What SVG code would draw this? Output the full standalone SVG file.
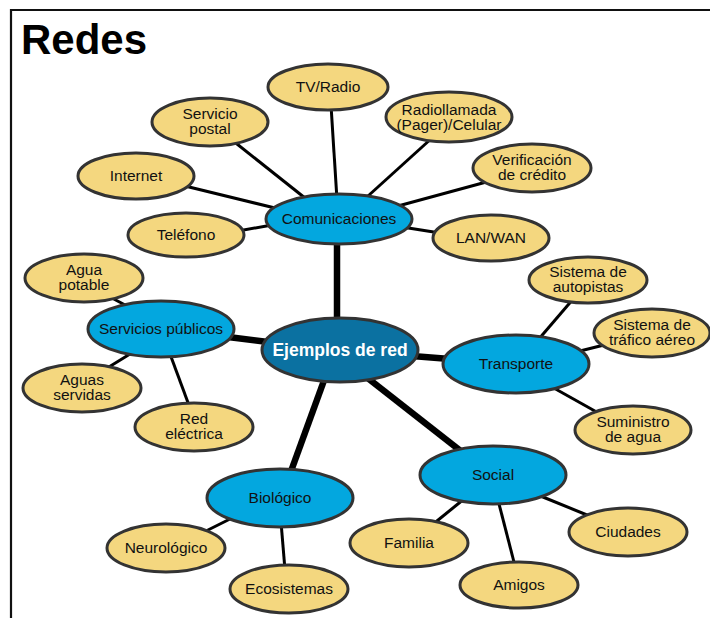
<svg xmlns="http://www.w3.org/2000/svg" width="710" height="618" viewBox="0 0 710 618">
  <style>
    text { font-family: "Liberation Sans", Arial, sans-serif; font-size: 15.5px; fill: #111; text-anchor: middle; }
    .leaf ellipse { fill: #f4d77f; stroke: #333; stroke-width: 3; }
    .cat ellipse { fill: #03a7df; stroke: #333; stroke-width: 3; }
    .hub ellipse { fill: #0b71a1; stroke: #333; stroke-width: 3; }
    .hub text { fill: #fff; font-weight: bold; font-size: 17.5px; }
    .title { font-weight: bold; font-size: 42px; text-anchor: start; fill: #000; }
    .thin { stroke: #000; stroke-width: 3; }
    .thick { stroke: #000; stroke-width: 6.5; }
  </style>

  <!-- frame -->
  <path d="M11 618 V10 H710" fill="none" stroke="#111" stroke-width="2.2"/>
  <text class="title" x="21" y="54">Redes</text>

  <!-- connectors -->
  <g id="connectors" stroke-linecap="butt">
    <line class="thin" x1="331" y1="105" x2="337" y2="200"/>
    <line class="thin" x1="232" y1="140" x2="305" y2="198"/>
    <line class="thin" x1="185" y1="186" x2="275" y2="208"/>
    <line class="thin" x1="238" y1="231" x2="272" y2="225"/>
    <line class="thin" x1="432" y1="138" x2="368" y2="196"/>
    <line class="thin" x1="490" y1="181" x2="398" y2="206"/>
    <line class="thin" x1="402" y1="227" x2="440" y2="233"/>
    <line class="thin" x1="110" y1="297" x2="127" y2="306"/>
    <line class="thin" x1="104" y1="370" x2="130" y2="354"/>
    <line class="thin" x1="170" y1="354" x2="190" y2="408"/>
    <line class="thin" x1="574" y1="298" x2="538" y2="340"/>
    <line class="thin" x1="576" y1="352" x2="608" y2="344"/>
    <line class="thin" x1="552" y1="387" x2="602" y2="415"/>
    <line class="thin" x1="432" y1="525" x2="464" y2="499"/>
    <line class="thin" x1="498" y1="500" x2="515" y2="566"/>
    <line class="thin" x1="538" y1="495" x2="592" y2="517"/>
    <line class="thin" x1="202" y1="533" x2="234" y2="517"/>
    <line class="thin" x1="281" y1="522" x2="285" y2="570"/>
    <line class="thick" x1="337" y1="240" x2="337" y2="325"/>
    <line class="thick" x1="228" y1="337" x2="268" y2="342"/>
    <line class="thick" x1="412" y1="356" x2="450" y2="359"/>
    <line class="thick" x1="365" y1="376" x2="462" y2="452"/>
    <line class="thick" x1="326" y1="375" x2="290" y2="474"/>
  </g>

  <!-- hub -->
  <g id="ejemplos" class="hub">
    <ellipse cx="340" cy="350" rx="78" ry="32"/>
    <text x="340" y="356">Ejemplos de red</text>
  </g>

  <!-- categories -->
  <g id="comunicaciones" class="cat">
    <ellipse cx="339" cy="219" rx="73" ry="25"/>
    <text x="339" y="224">Comunicaciones</text>
  </g>
  <g id="servicios" class="cat">
    <ellipse cx="161" cy="329" rx="73" ry="28"/>
    <text x="161" y="334">Servicios públicos</text>
  </g>
  <g id="transporte" class="cat">
    <ellipse cx="516" cy="364" rx="73" ry="29"/>
    <text x="516" y="369">Transporte</text>
  </g>
  <g id="social" class="cat">
    <ellipse cx="493" cy="475" rx="73" ry="29"/>
    <text x="493" y="480">Social</text>
  </g>
  <g id="biologico" class="cat">
    <ellipse cx="280" cy="498" rx="73" ry="29"/>
    <text x="280" y="503">Biológico</text>
  </g>

  <!-- leaves: Comunicaciones -->
  <g id="tvradio" class="leaf">
    <ellipse cx="328" cy="87" rx="60" ry="23"/>
    <text x="328" y="92">TV/Radio</text>
  </g>
  <g id="postal" class="leaf">
    <ellipse cx="210" cy="122" rx="58" ry="24"/>
    <text x="210" y="119">Servicio</text>
    <text x="210" y="134">postal</text>
  </g>
  <g id="internet" class="leaf">
    <ellipse cx="136" cy="176" rx="58" ry="23"/>
    <text x="136" y="181">Internet</text>
  </g>
  <g id="telefono" class="leaf">
    <ellipse cx="186" cy="235" rx="58" ry="22"/>
    <text x="186" y="240">Teléfono</text>
  </g>
  <g id="radiollamada" class="leaf">
    <ellipse cx="449" cy="117" rx="63" ry="25"/>
    <text x="449" y="115">Radiollamada</text>
    <text x="449" y="130">(Pager)/Celular</text>
  </g>
  <g id="verificacion" class="leaf">
    <ellipse cx="532" cy="168" rx="59" ry="24"/>
    <text x="532" y="165">Verificación</text>
    <text x="532" y="180">de crédito</text>
  </g>
  <g id="lanwan" class="leaf">
    <ellipse cx="491" cy="238" rx="58" ry="23"/>
    <text x="491" y="243">LAN/WAN</text>
  </g>

  <!-- leaves: Servicios públicos -->
  <g id="aguapotable" class="leaf">
    <ellipse cx="84" cy="278" rx="59" ry="24"/>
    <text x="84" y="275">Agua</text>
    <text x="84" y="290">potable</text>
  </g>
  <g id="aguasservidas" class="leaf">
    <ellipse cx="82" cy="388" rx="59" ry="24"/>
    <text x="82" y="385">Aguas</text>
    <text x="82" y="400">servidas</text>
  </g>
  <g id="redelectrica" class="leaf">
    <ellipse cx="194" cy="427" rx="59" ry="24"/>
    <text x="194" y="424">Red</text>
    <text x="194" y="439">eléctrica</text>
  </g>

  <!-- leaves: Transporte -->
  <g id="autopistas" class="leaf">
    <ellipse cx="588" cy="280" rx="59" ry="23"/>
    <text x="588" y="277">Sistema de</text>
    <text x="588" y="292">autopistas</text>
  </g>
  <g id="traficoaereo" class="leaf">
    <ellipse cx="652" cy="333" rx="58" ry="24"/>
    <text x="652" y="330">Sistema de</text>
    <text x="652" y="345">tráfico aéreo</text>
  </g>
  <g id="suministro" class="leaf">
    <ellipse cx="633" cy="430" rx="58" ry="24"/>
    <text x="633" y="427">Suministro</text>
    <text x="633" y="442">de agua</text>
  </g>

  <!-- leaves: Social -->
  <g id="familia" class="leaf">
    <ellipse cx="409" cy="543" rx="59" ry="24"/>
    <text x="409" y="548">Familia</text>
  </g>
  <g id="amigos" class="leaf">
    <ellipse cx="519" cy="585" rx="59" ry="23"/>
    <text x="519" y="590">Amigos</text>
  </g>
  <g id="ciudades" class="leaf">
    <ellipse cx="628" cy="532" rx="59" ry="24"/>
    <text x="628" y="537">Ciudades</text>
  </g>

  <!-- leaves: Biológico -->
  <g id="neurologico" class="leaf">
    <ellipse cx="166" cy="548" rx="59" ry="24"/>
    <text x="166" y="553">Neurológico</text>
  </g>
  <g id="ecosistemas" class="leaf">
    <ellipse cx="289" cy="589" rx="59" ry="24"/>
    <text x="289" y="594">Ecosistemas</text>
  </g>
</svg>
